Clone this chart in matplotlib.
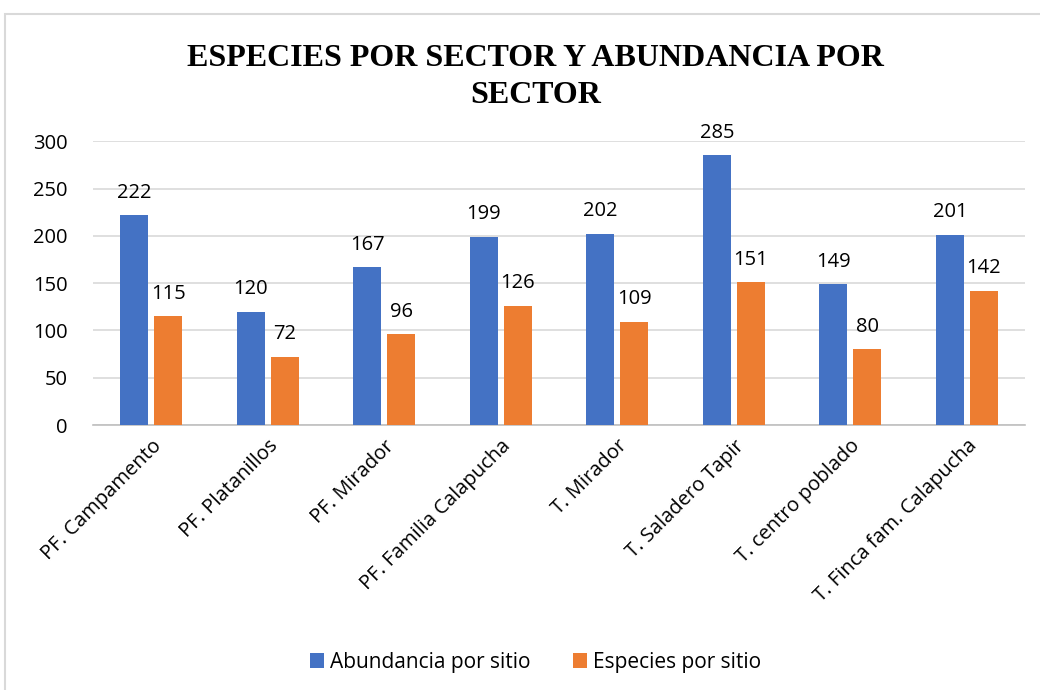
import numpy as np
import matplotlib
matplotlib.use("Agg")
import matplotlib.pyplot as plt
from matplotlib.patches import Rectangle

# datos
sitios = ["PF. Campamento", "PF. Platanillos", "PF. Mirador",
          "PF. Familia Calapucha", "T. Mirador", "T. Saladero Tapir",
          "T. centro poblado", "T. Finca fam. Calapucha"]
abundancia = [222, 120, 167, 199, 202, 285, 149, 201]
especies = [115, 72, 96, 126, 109, 151, 80, 142]

AZUL = "#4472C4"
NARANJA = "#ED7D31"
FONT = "Open Sans"
FS = 14.5

fig = plt.figure(figsize=(10.4, 6.9), dpi=100)
ax = fig.add_axes([0.0894, 0.384, 0.8962, 0.4113])

# marco del gráfico
fig.patches.append(Rectangle((0.005, -0.01), 1.2, 0.99, transform=fig.transFigure,
                             fill=False, edgecolor="#D9D9D9", linewidth=1.5))

x = np.arange(len(sitios))
w = 0.24
b1 = ax.bar(x - 0.145, abundancia, w, color=AZUL, label="Abundancia por sitio",
            zorder=3)
b2 = ax.bar(x + 0.145, especies, w, color=NARANJA, label="Especies por sitio",
            zorder=3)
for bars in (b1, b2):
    ax.bar_label(bars, padding=9, fontsize=FS, family=FONT, color="#000000")

ax.set_xlim(-0.5, len(sitios) - 0.5)
ax.set_ylim(0, 300)
ax.set_yticks(range(0, 301, 50))
ax.yaxis.grid(True, color="#D9D9D9", linewidth=1.2, zorder=0)
ax.set_axisbelow(True)
for s in ("top", "right", "left"):
    ax.spines[s].set_visible(False)
ax.spines["bottom"].set_color("#BFBFBF")
ax.spines["bottom"].set_linewidth(1.2)
ax.tick_params(length=0)
ax.tick_params(axis="y", pad=18)
ax.set_xticks(x)
ax.set_xticklabels(sitios, rotation=45, ha="right", rotation_mode="anchor")
for lb in ax.get_xticklabels() + ax.get_yticklabels():
    lb.set_fontfamily(FONT)
    lb.set_fontsize(FS)
ax.tick_params(axis="x", pad=8)

fig.text(0.515, 0.888, "ESPECIES POR SECTOR Y ABUNDANCIA POR\nSECTOR",
         ha="center", va="center", fontsize=23, fontweight="bold",
         family="Liberation Serif", linespacing=1.35)

fig.legend(loc="center", bbox_to_anchor=(0.515, 0.04), ncol=2, frameon=False,
           prop={"family": FONT, "size": 15}, handlelength=0.7,
           handleheight=0.7, columnspacing=2.0, handletextpad=0.3)

fig.savefig("out.png", dpi=100)
